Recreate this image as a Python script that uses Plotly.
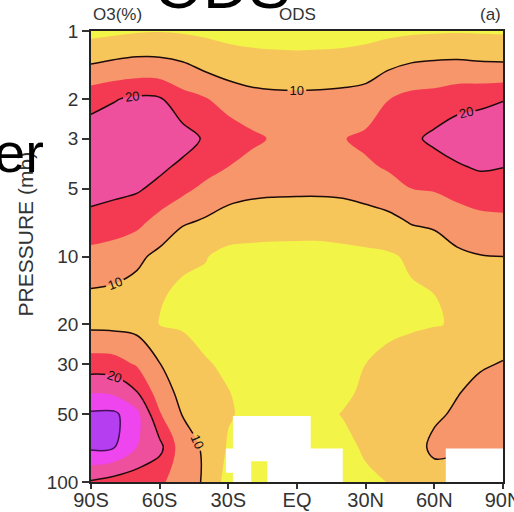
import plotly.graph_objects as go

# ---------------- data ----------------
lat = [-90, -80, -70, -60, -50, -40, -30, -20, -10, 0, 10, 20, 30, 40, 50, 60, 70, 80, 90]
pressure = [1, 1.5, 2, 3, 4, 5, 7, 10, 15, 20, 30, 40, 50, 70, 100]

o3_1mb   = [3.5, 4.0, 4.6, 4.8, 4.5, 4.0, 3.4, 3.0, 2.8, 2.7, 2.8, 3.0, 3.3, 3.8, 4.3, 4.5, 4.6, 4.5, 4.4]
o3_1p5mb = [11.3, 12.3, 12.9, 12.7, 11.6, 9.8, 8.4, 7.8, 7.5, 7.4, 7.5, 7.7, 8.4, 10.1, 11.4, 11.9, 12.1, 11.7, 11.6]
o3_2mb   = [18.4, 19.7, 20.8, 20.5, 16.8, 15.3, 13.0, 11.6, 11.2, 11.1, 11.2, 11.5, 11.9, 14.9, 16.5, 16.9, 18.3, 18.9, 19.8]
o3_3mb   = [22.5, 23.0, 23.0, 22.5, 22.0, 19.4, 17.7, 16.0, 14.5, 14.0, 14.3, 14.8, 16.0, 17.5, 19.1, 21.0, 22.5, 23.0, 23.0]
o3_4mb   = [22.5, 22.5, 22.0, 21.0, 19.0, 17.0, 15.0, 13.5, 13.0, 12.8, 13.0, 13.3, 14.3, 15.5, 16.9, 18.1, 19.5, 20.6, 20.1]
o3_5mb   = [21.8, 21.3, 20.6, 18.7, 16.3, 13.8, 12.4, 11.5, 11.2, 11.1, 11.1, 11.3, 12.0, 13.4, 15.0, 15.5, 16.7, 17.6, 17.7]
o3_7mb   = [18.5, 17.5, 16.4, 13.3, 10.7, 9.4, 7.6, 6.9, 6.6, 6.5, 6.5, 6.9, 7.8, 8.5, 10.4, 10.8, 12.7, 13.7, 14.0]
o3_10mb  = [13.3, 12.7, 11.0, 8.8, 5.5, 5.2, 3.8, 3.8, 3.8, 3.8, 3.8, 3.9, 4.0, 4.4, 5.7, 7.6, 9.0, 9.8, 10.0]
o3_15mb  = [9.2, 8.8, 8.2, 5.2, 4.5, 4.0, 3.6, 3.4, 3.3, 3.3, 3.3, 3.4, 3.6, 4.0, 4.4, 4.9, 6.3, 7.5, 8.2]
o3_20mb  = [8.8, 8.6, 8.3, 4.9, 4.3, 3.8, 3.4, 3.2, 3.0, 3.0, 3.0, 3.2, 3.5, 3.9, 4.4, 4.8, 5.3, 7.0, 8.0]
o3_30mb  = [17.3, 17.0, 14.5, 10.1, 8.2, 5.3, 4.4, 3.8, 3.5, 3.4, 3.6, 3.9, 5.0, 6.3, 7.2, 8.0, 8.8, 9.6, 10.2]
o3_40mb  = [24.8, 24.0, 20.2, 12.5, 8.5, 6.8, 5.1, 4.0, 3.5, 3.4, 3.6, 4.1, 5.8, 7.0, 8.2, 9.1, 9.8, 11.0, 11.8]
o3_50mb  = [30.8, 31.0, 26.5, 15.4, 9.8, 7.6, 5.4, 4.0, 3.5, 3.3, 3.8, 5.2, 6.0, 7.2, 8.2, 9.3, 10.6, 11.5, 12.0]
o3_70mb  = [31.0, 30.3, 25.0, 21.5, 12.0, 9.3, 4.5, 3.8, 3.5, 3.4, 3.5, 3.8, 5.6, 7.0, 8.0, 11.0, 11.0, 11.0, 10.8]
o3_100mb = [19.5, 18.0, 17.0, 15.7, 13.0, 9.2, 3.0, 3.8, 3.5, 3.3, 3.4, 3.7, 4.2, 5.1, 6.5, 8.0, 7.0, 7.0, 7.0]

o3_change = [o3_1mb, o3_1p5mb, o3_2mb, o3_3mb, o3_4mb, o3_5mb, o3_7mb, o3_10mb,
             o3_15mb, o3_20mb, o3_30mb, o3_40mb, o3_50mb, o3_70mb, o3_100mb]

# masked (blank) cells: 1 = blank
mask_lat_edges = [-31, -28, -20, -13, 6, 20, 65, 90]
mask_p_edges = [51, 71, 81, 91, 100]
mask_cells = [
    [0, 1, 1, 1, 0, 0, 0],
    [1, 1, 1, 1, 1, 0, 1],
    [1, 1, 0, 1, 1, 0, 1],
    [0, 1, 0, 1, 1, 0, 1],
]

x_tickvals = [-90, -60, -30, 0, 30, 60, 90]
x_ticktext = ["90S", "60S", "30S", "EQ", "30N", "60N", "90N"]
y_tickvals = [1, 2, 3, 5, 10, 20, 30, 50, 100]
y_ticktext = ["1", "2", "3", "5", "10", "20", "30", "50", "100"]

band_colors = ["#f2f547", "#f7c65a", "#f7956b", "#f43a52", "#ef509d", "#ee45ee", "#b43ef0"]

FONT = "Liberation Sans, Arial, sans-serif"

fig = go.Figure()

# filled bands every 5 %
n = len(band_colors)
cscale = [[i / (n - 1), c] for i, c in enumerate(band_colors)]
fig.add_trace(go.Contour(
    x=lat, y=pressure, z=o3_change,
    contours=dict(coloring="fill", start=5, end=30, size=5, showlines=False),
    colorscale=cscale, showscale=False, line=dict(width=0),
    hoverinfo="skip",
))

# labelled contour lines 10, 20
fig.add_trace(go.Contour(
    x=lat, y=pressure, z=o3_change,
    contours=dict(coloring="none", start=10, end=20, size=10, showlabels=True,
                  labelfont=dict(size=13, color="#111", family=FONT)),
    line=dict(color="#1e0c0c", width=1.5), showscale=False, hoverinfo="skip",
))
# 30 contour (unlabelled)
fig.add_trace(go.Contour(
    x=lat, y=pressure, z=o3_change,
    contours=dict(coloring="none", start=30, end=30, size=10, showlabels=False),
    line=dict(color="#44105a", width=1.5), showscale=False, hoverinfo="skip",
))

# blank (masked) cells as white rectangles built from the mask grid
mx, my = [], []
for j in range(len(mask_p_edges) - 1):
    for i in range(len(mask_lat_edges) - 1):
        if mask_cells[j][i]:
            x0, x1 = mask_lat_edges[i], mask_lat_edges[i + 1]
            y0, y1 = mask_p_edges[j], mask_p_edges[j + 1]
            mx += [x0, x1, x1, x0, x0, None]
            my += [y0, y0, y1, y1, y0, None]
fig.add_trace(go.Scatter(
    x=mx, y=my, mode="lines", fill="toself", fillcolor="white",
    line=dict(width=0, color="white"), hoverinfo="skip", showlegend=False,
))

fig.update_layout(
    width=514, height=512,
    margin=dict(l=91, r=11, t=31, b=30),
    paper_bgcolor="white", plot_bgcolor="white",
    showlegend=False,
    font=dict(family=FONT, color="#333"),
    xaxis=dict(range=[-90, 90], tickvals=x_tickvals, ticktext=x_ticktext,
               ticks="outside", ticklen=5, tickwidth=1.5, tickcolor="#333",
               showline=True, linecolor="#222", linewidth=1.5, mirror=True,
               showgrid=False, zeroline=False, automargin=False,
               ticklabeloverflow="allow", ticklabelstandoff=-6,
               tickfont=dict(size=20, color="#333", family=FONT)),
    yaxis=dict(type="log", range=[2, 0], tickvals=y_tickvals, ticktext=y_ticktext,
               ticks="outside", ticklen=7, tickwidth=1.5, tickcolor="#333",
               showline=True, linecolor="#222", linewidth=1.5, mirror=True,
               showgrid=False, zeroline=False, automargin=False,
               ticklabeloverflow="allow",
               tickfont=dict(size=19, color="#333", family=FONT)),
    annotations=[
        dict(text="O3(%)", xref="paper", yref="paper", x=0.0, y=1.036,
             xanchor="left", yanchor="middle", showarrow=False,
             font=dict(size=17, color="#333", family=FONT)),
        dict(text="ODS", xref="paper", yref="paper", x=0.5, y=1.036,
             xanchor="center", yanchor="middle", showarrow=False,
             font=dict(size=17, color="#333", family=FONT)),
        dict(text="(a)", xref="paper", yref="paper", x=1.0, y=1.036,
             xanchor="right", yanchor="middle", showarrow=False,
             font=dict(size=17, color="#333", family=FONT)),
        dict(text="PRESSURE (mb)", xref="paper", yref="paper", x=-0.158, y=0.551,
             xanchor="center", yanchor="middle", textangle=-90, showarrow=False,
             font=dict(size=21, color="#333", family=FONT)),
        dict(text="ODS", xref="paper", yref="paper", x=0.318, y=1.017,
             xanchor="center", yanchor="bottom", showarrow=False,
             font=dict(size=63, color="black", family=FONT)),
        dict(text="er", xref="paper", yref="paper", x=-0.109, y=0.656,
             xanchor="right", yanchor="bottom", showarrow=False,
             font=dict(size=56, color="black", family=FONT)),
    ],
)

fig.write_html("out.html", config={"displayModeBar": False},
               post_script="document.body.style.margin='0px';")
